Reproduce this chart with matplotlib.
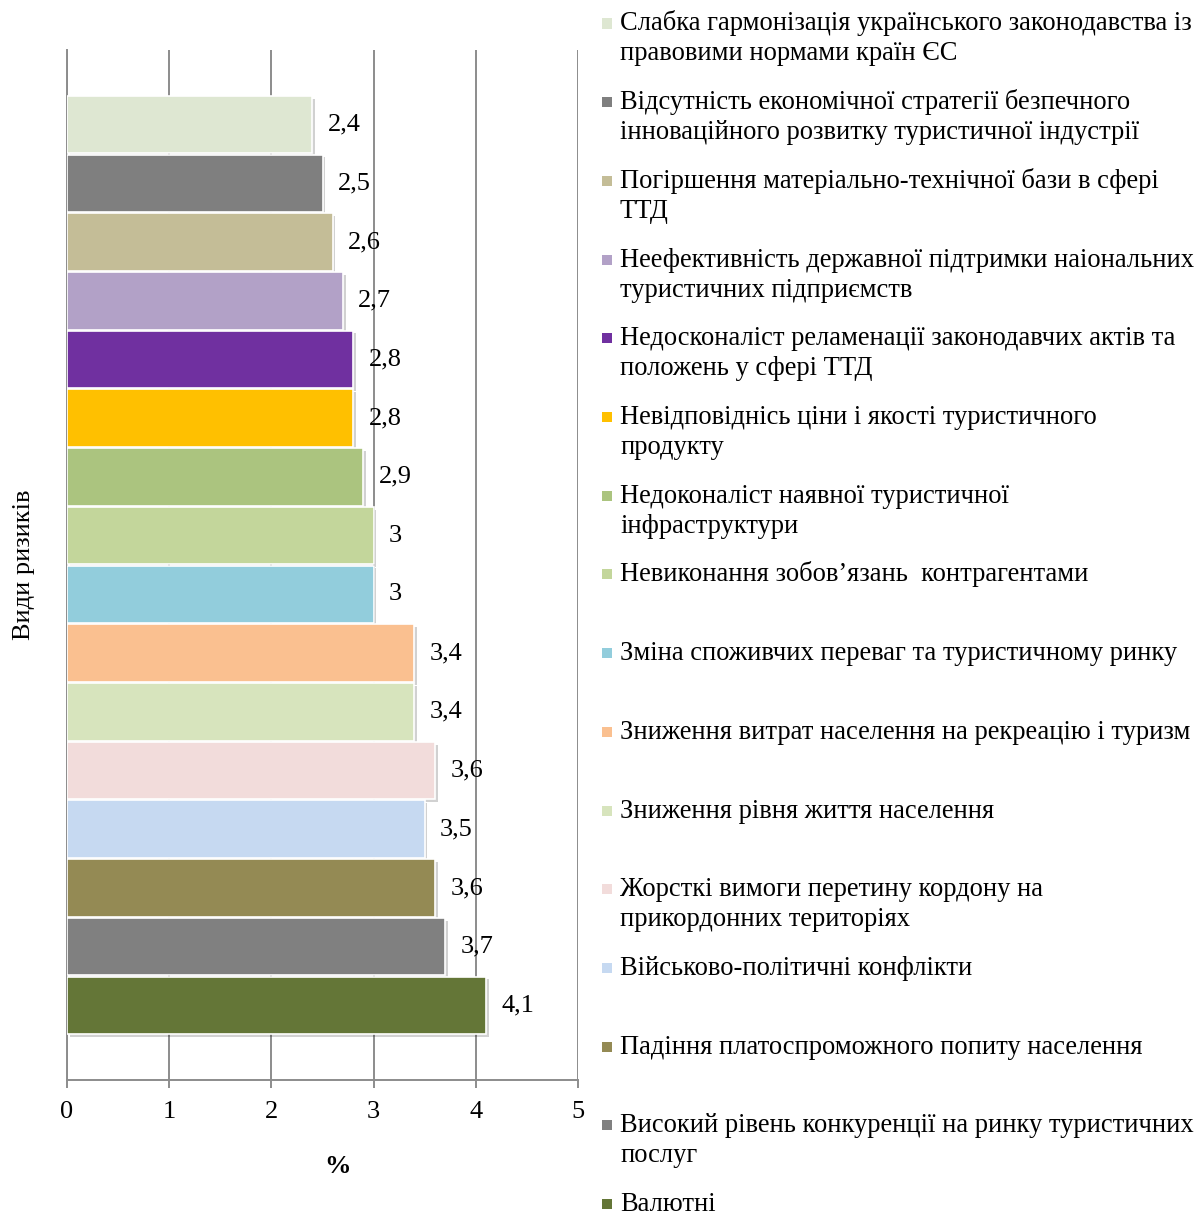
import matplotlib.pyplot as plt
import matplotlib.patheffects as pe
from matplotlib.patches import Rectangle

plt.rcParams['font.family'] = ['Liberation Serif', 'DejaVu Serif']

# risks, listed from the top bar down
risks = [
    'Слабка гармонізація українського законодавства із\nправовими нормами країн ЄС',
    'Відсутність економічної стратегії безпечного\nінноваційного розвитку туристичної індустрії',
    'Погіршення матеріально-технічної бази в сфері\nТТД',
    'Неефективність державної підтримки наіональних\nтуристичних підприємств',
    'Недосконаліст реламенації законодавчих актів та\nположень у сфері ТТД',
    'Невідповіднісь ціни і якості туристичного\nпродукту',
    'Недоконаліст наявної туристичної\nінфраструктури',
    'Невиконання зобов’язань  контрагентами',
    'Зміна споживчих переваг та туристичному ринку',
    'Зниження витрат населення на рекреацію і туризм',
    'Зниження рівня життя населення',
    'Жорсткі вимоги перетину кордону на\nприкордонних територіях',
    'Військово-політичні конфлікти',
    'Падіння платоспроможного попиту населення',
    'Високий рівень конкуренції на ринку туристичних\nпослуг',
    'Валютні',
]
values = [2.4, 2.5, 2.6, 2.7, 2.8, 2.8, 2.9, 3, 3, 3.4, 3.4, 3.6, 3.5, 3.6, 3.7, 4.1]
colors = ['#DEE7D2', '#7F7F7F', '#C4BD97', '#B2A1C7', '#7030A0', '#FFC000',
          '#ABC47F', '#C3D69B', '#92CDDC', '#FAC090', '#D7E4BD', '#F2DCDB',
          '#C6D9F1', '#948A54', '#808080', '#647637']
xticks = [0, 1, 2, 3, 4, 5]

W, H = 1201, 1216
fig = plt.figure(figsize=(W / 100, H / 100), dpi=100)
ax = fig.add_axes([67 / W, 1 - 1080 / H, (578 - 67) / W, (1080 - 50) / H])

n = len(values)
pos = list(range(n - 1, -1, -1))
shadow = [pe.SimplePatchShadow(offset=(2, -2), shadow_rgbFace='black', alpha=0.18), pe.Normal()]
ax.barh(pos, values, height=0.98, color=colors, edgecolor='white', linewidth=1.2,
        zorder=3, path_effects=shadow)

for y, v in zip(pos, values):
    ax.text(v + 0.15, y, ('%g' % v).replace('.', ','), va='center', ha='left',
            fontsize=19, zorder=4)

ax.set_xlim(0, 5)
ax.set_ylim(-1.27, n - 1 + 1.27)
ax.set_xticks(xticks)
ax.set_yticks([])
ax.grid(axis='x', color='#8C8C8C', linewidth=1.4, zorder=0)
for s in ['top', 'right']:
    ax.spines[s].set_visible(False)
for s in ['left', 'bottom']:
    ax.spines[s].set_color('#8C8C8C')
    ax.spines[s].set_linewidth(1.4)
ax.tick_params(axis='x', direction='out', length=6, width=1.4, color='#8C8C8C',
               labelsize=19, pad=9)

ax.set_xlabel('%', fontsize=19, fontweight='bold')
ax.xaxis.set_label_coords(0.53, -0.073)
ax.set_ylabel('Види ризиків', fontsize=19)
ax.yaxis.set_label_coords(-0.062, 0.5)

# legend drawn entry by entry on fixed slots
y0, step, line_h = 23.5, 78.7, 30
for i, (lab, col) in enumerate(zip(risks, colors)):
    yc = y0 + i * step
    fig.patches.append(Rectangle((602 / W, 1 - (yc + 5) / H), 10 / W, 10 / H,
                                 transform=fig.transFigure, facecolor=col,
                                 edgecolor='none'))
    for k, line in enumerate(lab.split('\n')):
        fig.text(620 / W, 1 - (yc + 7 + k * line_h) / H, line, fontsize=19.1,
                 va='baseline', ha='left')

fig.savefig('out.png', dpi=100)
